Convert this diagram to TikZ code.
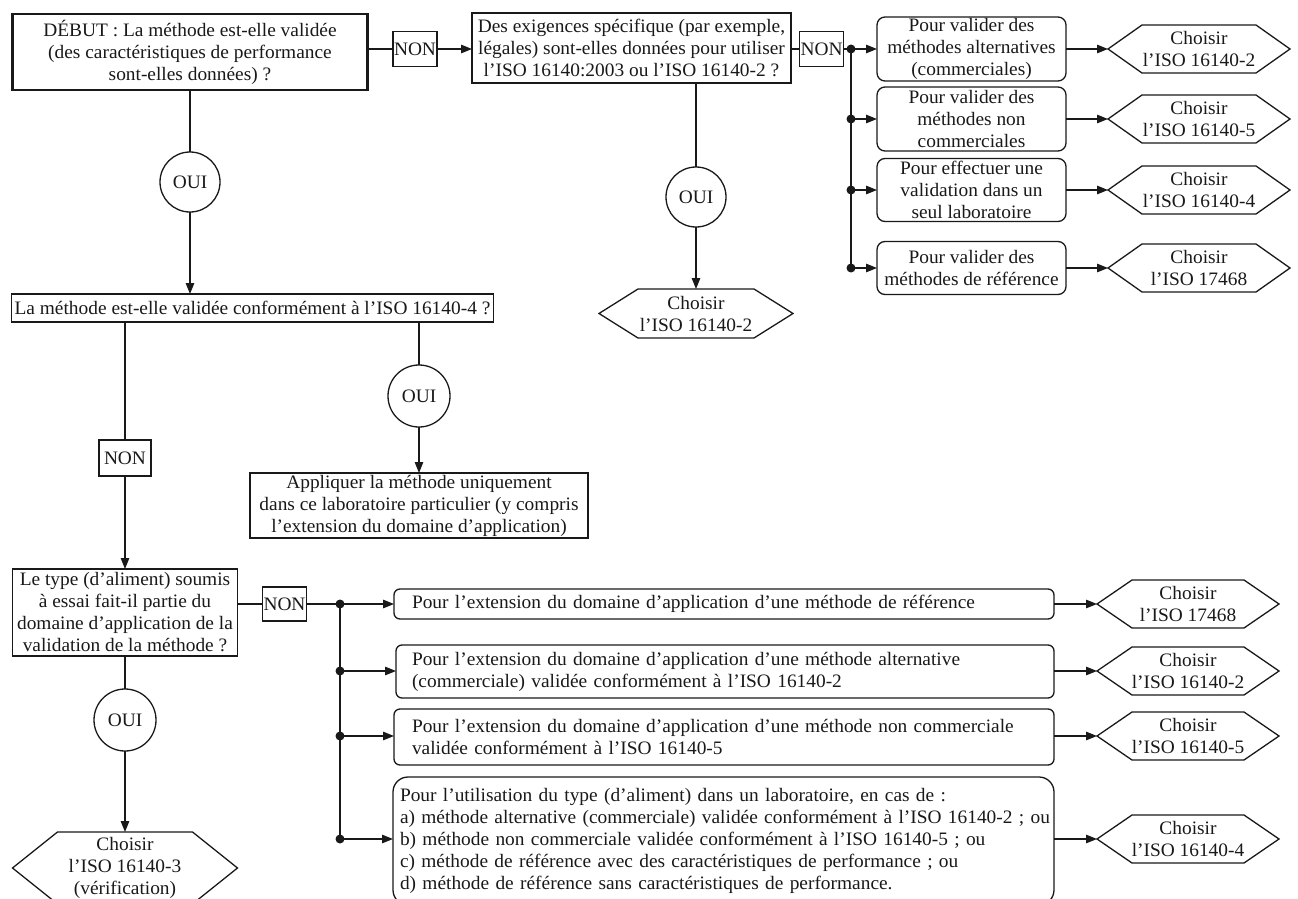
\documentclass[tikz,border=0pt]{standalone}
\usepackage{fontspec}
\setmainfont[FakeStretch=1.02]{Liberation Serif}
\usetikzlibrary{arrows.meta,calc}
\newcommand\hexoutline[2]{\draw[boxline] (#1.west) -- ([xshift=#2pt]#1.north west) -- ([xshift=-#2pt]#1.north east) -- (#1.east) -- ([xshift=-#2pt]#1.south east) -- ([xshift=#2pt]#1.south west) -- cycle;}
\begin{document}
\begin{tikzpicture}[x=1pt,y=-1pt,
  txt/.style={font=\fontsize{19}{22}\selectfont, text=black!90},
  boxline/.style={line width=1.3pt, draw=black!90},
  box/.style={txt, rectangle, boxline, align=center, inner sep=1pt, outer sep=0pt},
  startbox/.style={box, line width=2.8pt},
  rbox/.style={box, rounded corners=8pt},
  lbox/.style={box, align=left, rounded corners=6pt},
  nonbox/.style={box, minimum height=35pt},
  ouicircle/.style={txt, circle, boxline, inner sep=0pt, outer sep=0pt},
  hexbox/.style={txt, rectangle, draw=none, align=center, inner sep=0pt, outer sep=0pt},
  dot/.style={circle, fill=black!90, minimum size=9pt, inner sep=0pt, outer sep=0pt},
  conn/.style={line width=1.3pt, draw=black!90},
  arr/.style={conn, -{Triangle[length=11pt,width=8.5pt]}}
]
\useasboundingbox (0,0) rectangle (1298,899);
\clip (0,0) rectangle (1298,899);
\fill[white] (0,0) rectangle (1298,899);

% ---------- top row ----------
\node[startbox, minimum width=355pt, minimum height=76pt] (start) at (190,52)
  {DÉBUT : La méthode est-elle validée\\(des caractéristiques de performance\\sont-elles données) ?};
\node[nonbox, minimum width=40pt] (non1) at (415,49) {NON};
\node[box, minimum width=319pt, minimum height=70pt] (q2) at (631.5,48)
  {Des exigences spécifique (par exemple,\\légales) sont-elles données pour utiliser\\l’ISO 16140:2003 ou l’ISO 16140-2 ?};
\node[nonbox, minimum width=39pt] (non2) at (821.5,49) {NON};
\node[dot] (dA) at (851,49) {};
\node[dot] (dB) at (851,119) {};
\node[dot] (dC) at (851,190) {};
\node[dot] (dD) at (851,268) {};

\node[rbox, minimum width=189pt, minimum height=64pt] (bA) at (971.5,49)
  {Pour valider des\\méthodes alternatives\\(commerciales)};
\node[rbox, minimum width=189pt, minimum height=64pt] (bB) at (971.5,119)
  {Pour valider des\\méthodes non\\commerciales};
\node[rbox, minimum width=189pt, minimum height=63pt] (bC) at (971.5,190)
  {Pour effectuer une\\validation dans un\\seul laboratoire};
\node[rbox, minimum width=189pt, minimum height=53pt] (bD) at (971.5,268)
  {Pour valider des\\méthodes de référence};

\node[hexbox, minimum width=182pt, minimum height=48pt] (hA) at (1199,49) {Choisir\\l’ISO 16140-2};
\node[hexbox, minimum width=182pt, minimum height=48pt] (hB) at (1199,119) {Choisir\\l’ISO 16140-5};
\node[hexbox, minimum width=182pt, minimum height=48pt] (hC) at (1199,190) {Choisir\\l’ISO 16140-4};
\node[hexbox, minimum width=182pt, minimum height=48pt] (hD) at (1199,268) {Choisir\\l’ISO 17468};
\hexoutline{hA}{34}\hexoutline{hB}{34}\hexoutline{hC}{34}\hexoutline{hD}{34}

\draw[conn] (start.east |- non1.west) -- (non1.west);
\draw[arr] (non1.east) -- (non1.east -| q2.west);
\draw[conn] (q2.east |- non2.west) -- (non2.west);
\draw[conn] (non2.east) -- (dA.center);
\draw[conn] (dA.center) -- (dD.center);
\draw[arr] (dA.center) -- (dA.center -| bA.west);
\draw[arr] (dB.center) -- (dB.center -| bB.west);
\draw[arr] (dC.center) -- (dC.center -| bC.west);
\draw[arr] (dD.center) -- (dD.center -| bD.west);
\draw[arr] (bA.east) -- (hA.west);
\draw[arr] (bB.east) -- (hB.west);
\draw[arr] (bC.east) -- (hC.west);
\draw[arr] (bD.east) -- (hD.west);

% ---------- middle column (q2 -> OUI) ----------
\node[ouicircle, minimum size=60pt] (oui4) at (696,197) {OUI};
\node[hexbox, minimum width=194pt, minimum height=49pt] (hM) at (696,313.5) {Choisir\\l’ISO 16140-2};
\hexoutline{hM}{39}
\draw[conn] (oui4.north |- q2.south) -- (oui4.north);
\draw[arr] (oui4.south) -- (hM.north);

% ---------- left column ----------
\node[ouicircle, minimum size=60pt] (oui1) at (190,182) {OUI};
\node[box, minimum width=482pt, minimum height=28pt] (box2) at (252.5,308)
  {La méthode est-elle validée conformément à l’ISO 16140-4 ?};
\draw[conn] (start.south) -- (oui1.north);
\draw[arr] (oui1.south) -- (oui1.south |- box2.north);

\node[ouicircle, minimum size=62pt] (oui2) at (419,396) {OUI};
\node[box, minimum width=338pt, minimum height=65pt] (box3) at (419,505.5)
  {Appliquer la méthode uniquement\\dans ce laboratoire particulier (y compris\\l’extension du domaine d’application)};
\draw[conn] (oui2.north |- box2.south) -- (oui2.north);
\draw[arr] (oui2.south) -- (box3.north);

\node[nonbox, minimum width=52pt, minimum height=36pt] (non3) at (125,458) {NON};
\node[box, minimum width=225pt, minimum height=87pt] (box4) at (125,612.5)
  {Le type (d’aliment) soumis\\à essai fait-il partie du\\domaine d’application de la\\validation de la méthode ?};
\draw[conn] (non3.north |- box2.south) -- (non3.north);
\draw[arr] (non3.south) -- (box4.north);

\node[ouicircle, minimum size=62pt] (oui3) at (125,720) {OUI};
\node[hexbox, minimum width=225pt, minimum height=72pt] (hV) at (125,868) {Choisir\\l’ISO 16140-3\\(vérification)};
\hexoutline{hV}{45}
\draw[conn] (box4.south) -- (oui3.north);
\draw[arr] (oui3.south) -- (hV.north);

% ---------- bottom branch ----------
\node[nonbox, minimum width=43pt, minimum height=34pt] (non4) at (284.5,604) {NON};
\node[dot] (dE) at (340,604) {};
\node[dot] (dF) at (340,671) {};
\node[dot] (dG) at (340,736) {};
\node[dot] (dH) at (340,839) {};

\node[lbox, minimum width=660pt, minimum height=30pt, text width=624pt, inner xsep=18pt] (bE) at (724,604)
  {\mbox{Pour l’extension du domaine d’application d’une méthode de référence}};
\node[lbox, minimum width=658pt, minimum height=53pt, text width=626pt, inner xsep=16pt] (bF) at (725,671.5)
  {\mbox{Pour l’extension du domaine d’application d’une méthode alternative}\\\mbox{(commerciale) validée conformément à l’ISO 16140-2}};
\node[lbox, minimum width=660pt, minimum height=56pt, text width=624pt, inner xsep=18pt] (bG) at (724,737)
  {\mbox{Pour l’extension du domaine d’application d’une méthode non commerciale}\\\mbox{validée conformément à l’ISO 16140-5}};
\node[lbox, rounded corners=15pt, minimum width=661pt, minimum height=128pt, text width=647pt, inner xsep=7pt] (bH) at (723.5,841)
  {\mbox{Pour l’utilisation du type (d’aliment) dans un laboratoire, en cas de :}\\
   \mbox{a) méthode alternative (commerciale) validée conformément à l’ISO 16140-2 ; ou}\\
   \mbox{b) méthode non commerciale validée conformément à l’ISO 16140-5 ; ou}\\
   \mbox{c) méthode de référence avec des caractéristiques de performance ; ou}\\
   \mbox{d) méthode de référence sans caractéristiques de performance.}};

\node[hexbox, minimum width=182pt, minimum height=48pt] (hE) at (1188,604) {Choisir\\l’ISO 17468};
\node[hexbox, minimum width=182pt, minimum height=48pt] (hF) at (1188,671) {Choisir\\l’ISO 16140-2};
\node[hexbox, minimum width=182pt, minimum height=48pt] (hG) at (1188,736) {Choisir\\l’ISO 16140-5};
\node[hexbox, minimum width=182pt, minimum height=48pt] (hH) at (1188,839) {Choisir\\l’ISO 16140-4};
\hexoutline{hE}{35}\hexoutline{hF}{35}\hexoutline{hG}{35}\hexoutline{hH}{35}

\draw[conn] (box4.east |- non4.west) -- (non4.west);
\draw[conn] (non4.east) -- (dE.center);
\draw[conn] (dE.center) -- (dH.center);
\draw[arr] (dE.center) -- (dE.center -| bE.west);
\draw[arr] (dF.center) -- (dF.center -| bF.west);
\draw[arr] (dG.center) -- (dG.center -| bG.west);
\draw[arr] (dH.center) -- (dH.center -| bH.west);
\draw[arr] (hE.west -| bE.east) -- (hE.west);
\draw[arr] (hF.west -| bF.east) -- (hF.west);
\draw[arr] (hG.west -| bG.east) -- (hG.west);
\draw[arr] (hH.west -| bH.east) -- (hH.west);
\end{tikzpicture}
\end{document}
